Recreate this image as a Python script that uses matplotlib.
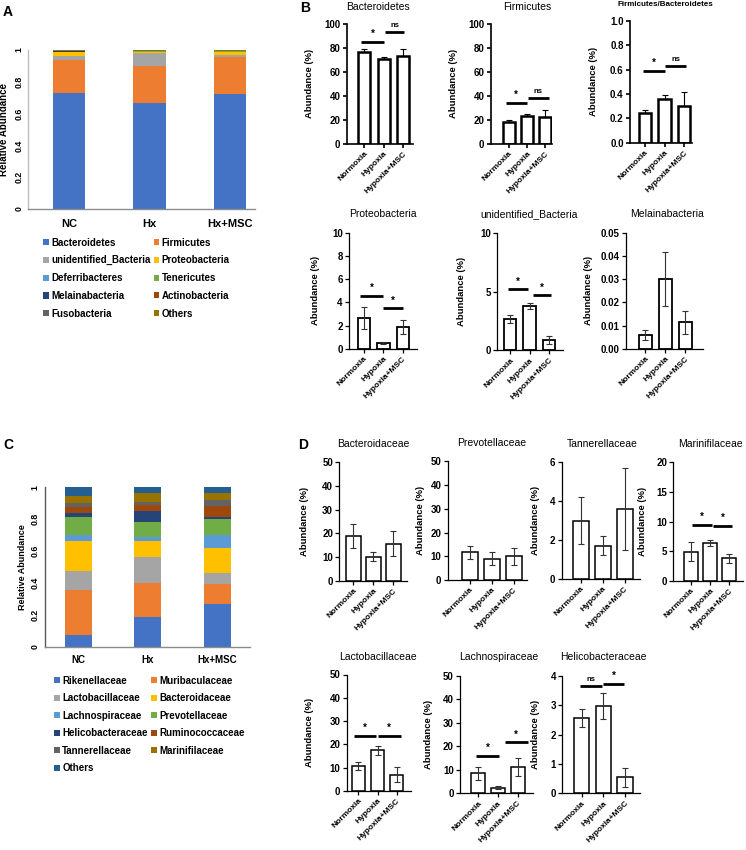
import matplotlib
matplotlib.use('Agg')
import matplotlib.pyplot as plt
import numpy as np

plt.rcParams['font.family'] = ['Liberation Sans', 'DejaVu Sans']

W, H = 746, 850
fig = plt.figure(figsize=(W / 100, H / 100), dpi=100)


def px_axes(left, top, right, bottom):
    return fig.add_axes([left / W, 1 - bottom / H, (right - left) / W, (bottom - top) / H])


def ftext(x, y, s, **kw):
    return fig.text(x / W, 1 - y / H, s, **kw)


# ---------------------------------------------------------------- data
stack_groups = ['NC', 'Hx', 'Hx+MSC']

phyla = ['Bacteroidetes', 'Firmicutes', 'unidentified_Bacteria', 'Proteobacteria',
         'Deferribacteres', 'Tenericutes', 'Melainabacteria', 'Actinobacteria',
         'Fusobacteria', 'Others']
phyla_colors = ['#4472C4', '#ED7D31', '#A5A5A5', '#FFC000', '#5B9BD5',
                '#70AD47', '#264478', '#9E480E', '#636363', '#997300']
phyla_nc = [0.730, 0.207, 0.027, 0.021, 0.002, 0.003, 0.002, 0.002, 0.001, 0.005]
phyla_hx = [0.665, 0.236, 0.078, 0.006, 0.002, 0.005, 0.001, 0.001, 0.001, 0.005]
phyla_msc = [0.723, 0.231, 0.015, 0.016, 0.002, 0.004, 0.001, 0.002, 0.001, 0.005]

families = ['Rikenellaceae', 'Muribaculaceae', 'Lactobacillaceae', 'Bacteroidaceae',
            'Lachnospiraceae', 'Prevotellaceae', 'Helicobacteraceae', 'Ruminococcaceae',
            'Tannerellaceae', 'Marinifilaceae', 'Others']
family_colors = ['#4472C4', '#ED7D31', '#A5A5A5', '#FFC000', '#5B9BD5', '#70AD47',
                 '#264478', '#9E480E', '#636363', '#997300', '#255E91']
family_nc = [0.071, 0.285, 0.117, 0.190, 0.036, 0.117, 0.025, 0.033, 0.030, 0.040, 0.056]
family_hx = [0.186, 0.216, 0.161, 0.100, 0.025, 0.094, 0.069, 0.038, 0.019, 0.056, 0.036]
family_msc = [0.270, 0.125, 0.069, 0.157, 0.078, 0.100, 0.013, 0.073, 0.033, 0.044, 0.038]

groups = ['Normoxia', 'Hypoxia', 'Hypoxia+MSC']

bacteroidetes_mean = [77.0, 71.0, 73.0]
bacteroidetes_err = [2.5, 1.5, 6.5]
firmicutes_mean = [18.0, 23.5, 22.5]
firmicutes_err = [2.0, 1.0, 6.0]
fb_ratio_mean = [0.24, 0.36, 0.30]
fb_ratio_err = [0.03, 0.03, 0.115]
proteobacteria_mean = [2.7, 0.5, 1.9]
proteobacteria_err = [0.95, 0.06, 0.6]
unidentified_mean = [2.65, 3.8, 0.85]
unidentified_err = [0.35, 0.25, 0.35]
melainabacteria_mean = [0.006, 0.030, 0.0115]
melainabacteria_err = [0.002, 0.0115, 0.005]

bacteroidaceae_mean = [19.0, 10.2, 15.7]
bacteroidaceae_err = [5.0, 2.0, 5.2]
prevotellaceae_mean = [11.7, 9.0, 10.0]
prevotellaceae_err = [2.7, 2.6, 3.6]
tannerellaceae_mean = [3.0, 1.7, 3.6]
tannerellaceae_err = [1.22, 0.48, 2.1]
marinifilaceae_mean = [4.9, 6.3, 3.8]
marinifilaceae_err = [1.6, 0.5, 0.75]
lactobacillaceae_mean = [10.8, 17.4, 7.0]
lactobacillaceae_err = [1.7, 2.0, 3.3]
lachnospiraceae_mean = [8.5, 2.3, 11.2]
lachnospiraceae_err = [2.8, 0.6, 3.7]
helicobacteraceae_mean = [2.57, 2.97, 0.55]
helicobacteraceae_err = [0.30, 0.45, 0.32]

# significance brackets: (x start, x end, y, label) in category / data units
sig_bacteroidetes = [(-0.17, 1.03, 85, '*'), (1.06, 2.05, 93.6, 'ns')]
sig_firmicutes = [(-0.17, 0.975, 34, '*'), (1.03, 2.19, 38.5, 'ns')]
sig_fb = [(-0.1, 1.03, 0.589, '*'), (1.03, 2.1, 0.63, 'ns')]
sig_proteo = [(-0.2, 0.97, 4.6, '*'), (0.97, 2.0, 3.5, '*')]
sig_unident = [(-0.1, 0.9, 5.2, '*'), (1.16, 2.1, 4.7, '*')]
sig_marini = [(0.04, 1.08, 9.36, '*'), (1.16, 2.13, 9.2, '*')]
sig_lacto = [(-0.2, 0.92, 23.5, '*'), (1.01, 2.2, 23.5, '*')]
sig_lachno = [(-0.1, 1.07, 15.9, '*'), (1.35, 2.5, 21.7, '*')]
sig_helico = [(-0.08, 0.95, 3.67, 'ns'), (1.0, 1.95, 3.74, '*')]


# ---------------------------------------------------------------- stacked panels
def stacked_panel(geom, data_rows, names, colors, tick_fs, ytick_fs, ylab_fs, ylab_x,
                  ytick_pad, xtick_pad, left_spine_color, legend_anchor, legend_fs,
                  col_spacing, label_spacing):
    left, top, right, bottom, c0, c2, width = geom
    ax = px_axes(left, top, right, bottom)
    scale = (c2 - c0) / 2
    vals = np.array(data_rows).T  # taxa x groups
    x = np.arange(len(data_rows))
    cum = np.zeros(len(data_rows))
    handles = []
    for i, name in enumerate(names):
        b = ax.bar(x, vals[i], width=width, bottom=cum, color=colors[i], label=name,
                   linewidth=0)
        handles.append(b)
        cum += vals[i]
    ax.set_xlim(-(c0 - left) / scale, 2 + (right - c2) / scale)
    ax.set_ylim(0, 1)
    ax.set_yticks([0, 0.2, 0.4, 0.6, 0.8, 1.0])
    ax.set_yticklabels(['0', '0.2', '0.4', '0.6', '0.8', '1'], rotation=90,
                       va='center', fontsize=ytick_fs, fontweight='bold')
    ax.set_xticks(x)
    ax.set_xticklabels(stack_groups, fontsize=tick_fs, fontweight='bold')
    ax.tick_params(axis='both', length=0)
    ax.tick_params(axis='x', pad=xtick_pad)
    ax.tick_params(axis='y', pad=ytick_pad)
    for s in ['top', 'right']:
        ax.spines[s].set_visible(False)
    ax.spines['left'].set_color(left_spine_color)
    ax.spines['left'].set_linewidth(1.0)
    ax.spines['bottom'].set_color('#8C8C8C')
    ax.spines['bottom'].set_linewidth(1.0)
    ftext(ylab_x, (top + bottom) / 2, 'Relative Abundance', rotation=90, ha='center',
          va='center', fontsize=ylab_fs, fontweight='bold')
    n = len(handles)
    order = list(range(0, n, 2)) + list(range(1, n, 2))
    fig.legend([handles[i] for i in order], [names[i] for i in order], ncol=2,
               loc='upper left', bbox_to_anchor=(legend_anchor[0] / W, 1 - legend_anchor[1] / H),
               frameon=False, prop={'weight': 'bold', 'size': legend_fs},
               handlelength=0.6, handleheight=0.6, handletextpad=0.25,
               columnspacing=col_spacing, labelspacing=label_spacing, borderpad=0,
               borderaxespad=0)
    return ax


stacked_panel((28, 50, 255, 209, 69, 230, 0.40), [phyla_nc, phyla_hx, phyla_msc],
              phyla, phyla_colors, 8, 6.3, 7.0, 4.5, 3.0, 7, '#BFBFBF', (43, 237.5), 7.0,
              0.3, 0.8)
stacked_panel((45, 487.3, 250, 646.7, 78.7, 217.2, 0.39), [family_nc, family_hx, family_msc],
              families, family_colors, 7, 6.3, 6.5, 23, 4.0, 6, '#595959', (54, 675.5), 7.0,
              0.3, 0.78)


# ---------------------------------------------------------------- bar panels
def bar_panel(geom, means, errs, title, ymax, yticks, fmt, sigs, title_xy,
              ylab_x, width=0.65, edge_lw=1.2, spine_lw=0.9, upper_only=False,
              err_color='#333333', title_fs=7.5, title_weight='normal'):
    left, top, right, bottom, c0, c2 = geom
    ax = px_axes(left, top, right, bottom)
    scale = (c2 - c0) / 2
    x = np.arange(3)
    ax.bar(x, means, width=width, facecolor='white', edgecolor='black',
           linewidth=edge_lw, zorder=2)
    if upper_only:
        yerr = [np.zeros(3), errs]
    else:
        yerr = errs
    ax.errorbar(x, means, yerr=yerr, fmt='none', ecolor=err_color, elinewidth=0.8,
                capsize=2.5, capthick=0.8, zorder=3)
    ax.set_xlim(-(c0 - left) / scale, 2 + (right - c2) / scale)
    ax.set_ylim(0, ymax)
    ax.set_yticks(yticks)
    ax.set_yticklabels([fmt.format(t) for t in yticks], fontsize=7, fontweight='bold')
    ax.set_xticks(x)
    ax.set_xticklabels(groups, rotation=45, ha='right', rotation_mode='anchor',
                       fontsize=6, fontweight='bold')
    ax.tick_params(axis='both', length=3, width=spine_lw, pad=1.5)
    for s in ['top', 'right']:
        ax.spines[s].set_visible(False)
    for s in ['left', 'bottom']:
        ax.spines[s].set_linewidth(spine_lw)
    for x0, x1, y, lab in sigs:
        ax.plot([x0, x1], [y, y], color='black', lw=2.0, solid_capstyle='butt',
                clip_on=False, zorder=4)
        off = ymax * 0.025
        ax.text((x0 + x1) / 2, y + off, lab, ha='center', va='bottom',
                fontsize=7 if lab == '*' else 5.5, fontweight='bold')
    ftext(ylab_x, (top + bottom) / 2, 'Abundance (%)', rotation=90, ha='center',
          va='center', fontsize=6.8, fontweight='bold')
    ftext(title_xy[0], title_xy[1], title, ha='center', va='center', fontsize=title_fs,
          fontweight=title_weight)
    return ax


# Panel B, row 1
bar_panel((346.7, 24, 412.7, 143.7, 364.3, 403.3), bacteroidetes_mean, bacteroidetes_err,
          'Bacteroidetes', 100, [0, 20, 40, 60, 80, 100], '{:.0f}', sig_bacteroidetes,
          (377.7, 7), 310, width=0.63, edge_lw=1.8, spine_lw=1.2, upper_only=True,
          err_color='black')
bar_panel((490.7, 24, 551.7, 143.7, 509, 545.3), firmicutes_mean, firmicutes_err,
          'Firmicutes', 100, [0, 20, 40, 60, 80, 100], '{:.0f}', sig_firmicutes,
          (527.7, 7), 453.3, width=0.65, edge_lw=1.8, spine_lw=1.2, upper_only=True,
          err_color='black')
bar_panel((630, 21, 691.7, 142.7, 645, 684), fb_ratio_mean, fb_ratio_err,
          'Firmicutes/Bacteroidetes', 1.0, [0, 0.2, 0.4, 0.6, 0.8, 1.0], '{:.1f}', sig_fb,
          (665.7, 5), 593.3, width=0.63, edge_lw=1.8, spine_lw=1.2, upper_only=True,
          err_color='black', title_fs=5.8, title_weight='bold')
# Panel B, row 2
bar_panel((349, 232.7, 416.7, 349, 364, 402.7), proteobacteria_mean, proteobacteria_err,
          'Proteobacteria', 10, [0, 2, 4, 6, 8, 10], '{:.0f}', sig_proteo,
          (382.7, 214), 315, width=0.64, edge_lw=1.3)
bar_panel((497.3, 233.3, 563, 350.3, 510.3, 549), unidentified_mean, unidentified_err,
          'unidentified_Bacteria', 10, [0, 5, 10], '{:.0f}', sig_unident,
          (529.3, 214), 461.7, width=0.64, edge_lw=1.3)
bar_panel((626, 232.7, 702.7, 349, 645.3, 685.3), melainabacteria_mean, melainabacteria_err,
          'Melainabacteria', 0.05, [0, 0.01, 0.02, 0.03, 0.04, 0.05], '{:.2f}', [],
          (666.7, 214), 588.3, width=0.64, edge_lw=1.3)
# Panel D, row 1
bar_panel((339.3, 462.3, 407.3, 580.7, 353.3, 393.3), bacteroidaceae_mean, bacteroidaceae_err,
          'Bacteroidaceae', 50, [0, 10, 20, 30, 40, 50], '{:.0f}', [],
          (373.3, 444), 304.3, width=0.75, edge_lw=1.1)
bar_panel((447.7, 461.3, 526.7, 580, 470, 513.7), prevotellaceae_mean, prevotellaceae_err,
          'Prevotellaceae', 50, [0, 10, 20, 30, 40, 50], '{:.0f}', [],
          (491.7, 443), 420.7, width=0.75, edge_lw=1.1)
bar_panel((561.7, 462, 640, 579, 581, 624.7), tannerellaceae_mean, tannerellaceae_err,
          'Tannerellaceae', 6, [0, 2, 4, 6], '{:.0f}', [],
          (602.7, 444), 535, width=0.75, edge_lw=1.1)
bar_panel((673.3, 462.3, 742.7, 580.7, 691, 729.3), marinifilaceae_mean, marinifilaceae_err,
          'Marinifilaceae', 20, [0, 5, 10, 15, 20], '{:.0f}', sig_marini,
          (710.7, 444), 642.7, width=0.75, edge_lw=1.1)
# Panel D, row 2
bar_panel((346.7, 674.5, 411, 791, 358.3, 396.7), lactobacillaceae_mean, lactobacillaceae_err,
          'Lactobacillaceae', 50, [0, 10, 20, 30, 40, 50], '{:.0f}', sig_lacto,
          (377.7, 657), 310, width=0.7, edge_lw=1.1)
bar_panel((460, 676, 532.7, 793.3, 478.3, 517.7), lachnospiraceae_mean, lachnospiraceae_err,
          'Lachnospiraceae', 50, [0, 10, 20, 30, 40, 50], '{:.0f}', sig_lachno,
          (498.3, 657), 428.3, width=0.7, edge_lw=1.1)
bar_panel((562.3, 676, 640, 793.3, 581.7, 625), helicobacteraceae_mean, helicobacteraceae_err,
          'Helicobacteraceae', 4, [0, 1, 2, 3, 4], '{:.0f}', sig_helico,
          (603, 657), 535.7, width=0.7, edge_lw=1.1)

# panel letters
for lab, (px, py) in {'A': (8, 12), 'B': (305, 8), 'C': (8, 445), 'D': (303, 445)}.items():
    ftext(px, py, lab, ha='center', va='center', fontsize=10, fontweight='bold')

fig.savefig('out.png', dpi=100)
